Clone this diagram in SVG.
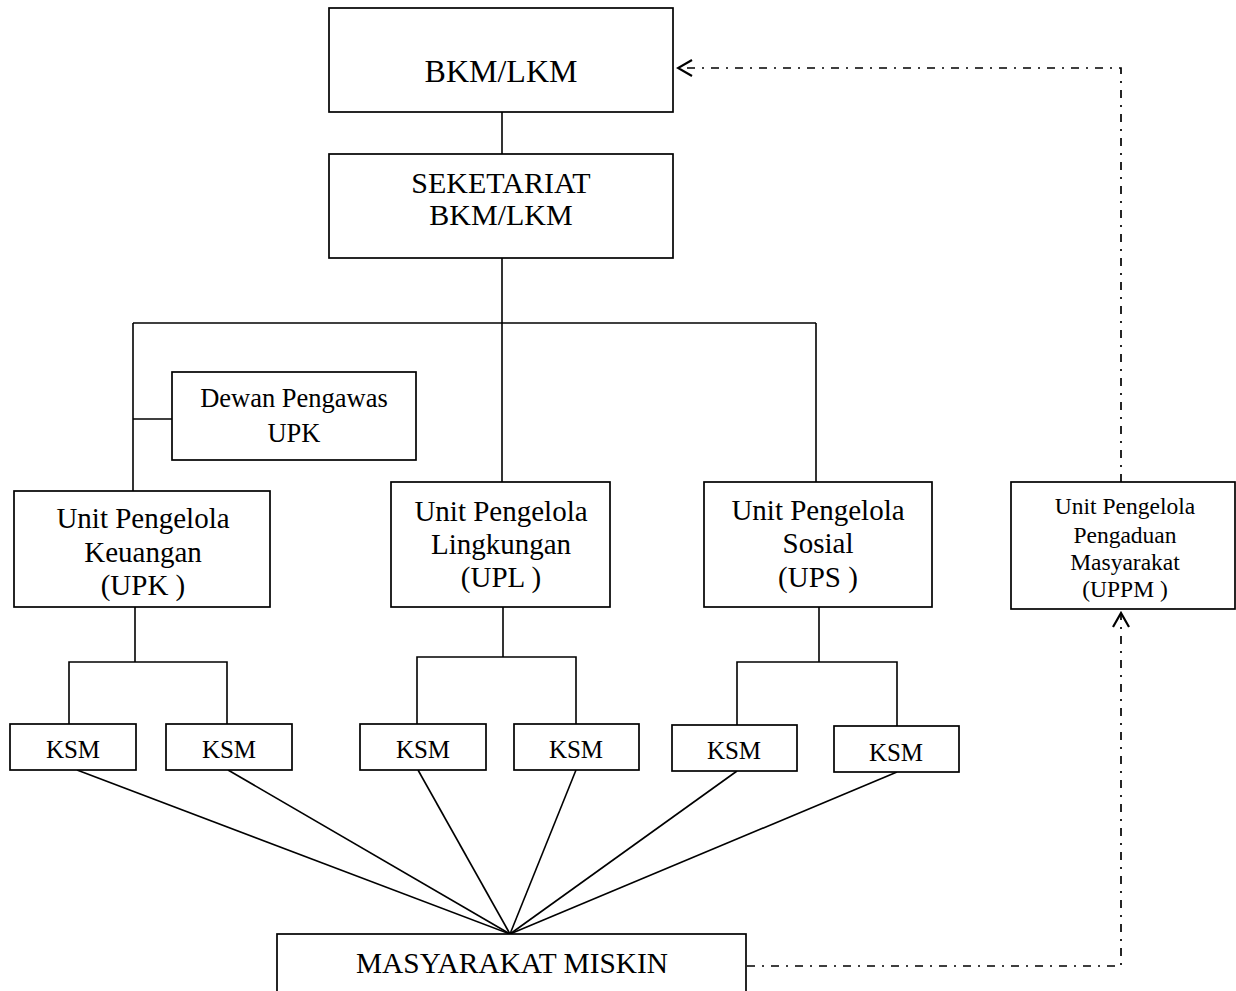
<svg xmlns="http://www.w3.org/2000/svg" width="1236" height="991" viewBox="0 0 1236 991">
<style>
.box{fill:#fff;stroke:#000;stroke-width:1.7}
.ln{fill:none;stroke:#000;stroke-width:1.6}
.dd{fill:none;stroke:#000;stroke-width:1.7;stroke-dasharray:8 7 2 7}
.t{font-family:"Liberation Serif","Times New Roman",serif;fill:#000;text-anchor:middle}
</style>
<defs>
<marker id="arr" viewBox="0 0 20 20" refX="18" refY="10" markerWidth="20" markerHeight="20" markerUnits="userSpaceOnUse" orient="auto">
<path d="M4,2 L18,10 L4,18" fill="none" stroke="#000" stroke-width="2.2"/>
</marker>
</defs>
<g id="connectors">
<line class="ln" x1="502" y1="112" x2="502" y2="154"/>
<line class="ln" x1="502" y1="258" x2="502" y2="323"/>
<line class="ln" x1="133" y1="323" x2="816" y2="323"/>
<line class="ln" x1="133" y1="323" x2="133" y2="491"/>
<line class="ln" x1="502" y1="323" x2="502" y2="482"/>
<line class="ln" x1="816" y1="323" x2="816" y2="482"/>
<line class="ln" x1="133" y1="419" x2="172" y2="419"/>
<polyline class="ln" points="135,607 135,662"/>
<polyline class="ln" points="69,724 69,662 227,662 227,724"/>
<polyline class="ln" points="503,607 503,657"/>
<polyline class="ln" points="417,724 417,657 576,657 576,724"/>
<polyline class="ln" points="819,607 819,662"/>
<polyline class="ln" points="737,725 737,662 897,662 897,726"/>
<line class="ln" x1="77" y1="770" x2="510" y2="934"/>
<line class="ln" x1="228" y1="770" x2="510" y2="934"/>
<line class="ln" x1="418" y1="770" x2="510" y2="934"/>
<line class="ln" x1="576" y1="770" x2="510" y2="934"/>
<line class="ln" x1="737" y1="771" x2="510" y2="934"/>
<line class="ln" x1="897" y1="772" x2="510" y2="934"/>
<path class="dd" d="M1121,482 L1121,68 L678,68" marker-end="url(#arr)"/>
<path class="dd" d="M747,966 L1121,966 L1121,613" marker-end="url(#arr)"/>
</g>
<g id="bkm">
<rect class="box" x="329" y="8" width="344" height="104"/>
<text class="t" x="501" y="82" font-size="32">BKM/LKM</text>
</g>
<g id="seketariat">
<rect class="box" x="329" y="154" width="344" height="104"/>
<text class="t" x="501" y="193" font-size="30">SEKETARIAT</text>
<text class="t" x="501" y="225" font-size="30">BKM/LKM</text>
</g>
<g id="dewan">
<rect class="box" x="172" y="372" width="244" height="88"/>
<text class="t" x="294" y="407" font-size="26.5">Dewan Pengawas</text>
<text class="t" x="294" y="442" font-size="26.5">UPK</text>
</g>
<g id="upk">
<rect class="box" x="14" y="491" width="256" height="116"/>
<text class="t" x="143" y="528" font-size="29">Unit Pengelola</text>
<text class="t" x="143" y="562" font-size="29">Keuangan</text>
<text class="t" x="143" y="595" font-size="29">(UPK )</text>
</g>
<g id="upl">
<rect class="box" x="391" y="482" width="219" height="125"/>
<text class="t" x="501" y="521" font-size="29">Unit Pengelola</text>
<text class="t" x="501" y="554" font-size="29">Lingkungan</text>
<text class="t" x="501" y="587" font-size="29">(UPL )</text>
</g>
<g id="ups">
<rect class="box" x="704" y="482" width="228" height="125"/>
<text class="t" x="818" y="520" font-size="29">Unit Pengelola</text>
<text class="t" x="818" y="553" font-size="29">Sosial</text>
<text class="t" x="818" y="587" font-size="29">(UPS )</text>
</g>
<g id="uppm">
<rect class="box" x="1011" y="482" width="224" height="127"/>
<text class="t" x="1125" y="514" font-size="23.5">Unit Pengelola</text>
<text class="t" x="1125" y="543" font-size="23.5">Pengaduan</text>
<text class="t" x="1125" y="570" font-size="23.5">Masyarakat</text>
<text class="t" x="1125" y="597" font-size="23.5">(UPPM )</text>
</g>
<g id="ksm1">
<rect class="box" x="10" y="724" width="126" height="46"/>
<text class="t" x="73" y="758" font-size="25">KSM</text>
</g>
<g id="ksm2">
<rect class="box" x="166" y="724" width="126" height="46"/>
<text class="t" x="229" y="758" font-size="25">KSM</text>
</g>
<g id="ksm3">
<rect class="box" x="360" y="724" width="126" height="46"/>
<text class="t" x="423" y="758" font-size="25">KSM</text>
</g>
<g id="ksm4">
<rect class="box" x="514" y="724" width="125" height="46"/>
<text class="t" x="576" y="758" font-size="25">KSM</text>
</g>
<g id="ksm5">
<rect class="box" x="672" y="725" width="125" height="46"/>
<text class="t" x="734" y="759" font-size="25">KSM</text>
</g>
<g id="ksm6">
<rect class="box" x="834" y="726" width="125" height="46"/>
<text class="t" x="896" y="761" font-size="25">KSM</text>
</g>
<g id="masyarakat">
<rect class="box" x="277" y="934" width="469" height="70"/>
<text class="t" x="512" y="973" font-size="29" textLength="312" lengthAdjust="spacingAndGlyphs">MASYARAKAT MISKIN</text>
</g>
</svg>
